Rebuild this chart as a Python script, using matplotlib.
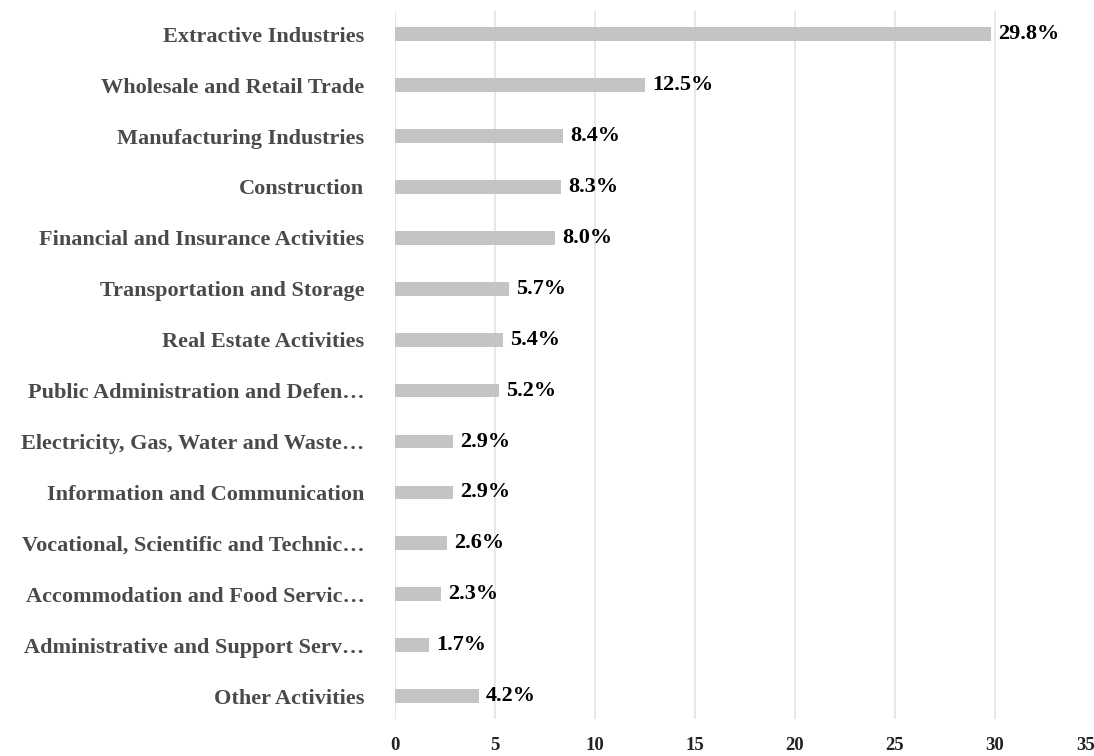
import matplotlib
matplotlib.use("Agg")
import matplotlib.pyplot as plt

# sector shares (%), top to bottom as shown
sectors = [
    "Extractive Industries",
    "Wholesale and Retail Trade",
    "Manufacturing Industries",
    "Construction",
    "Financial and Insurance Activities",
    "Transportation and Storage",
    "Real Estate Activities",
    "Public Administration and Defen\u2026",
    "Electricity, Gas, Water and Waste\u2026",
    "Information and Communication",
    "Vocational, Scientific and Technic\u2026",
    "Accommodation and Food Servic\u2026",
    "Administrative and Support Serv\u2026",
    "Other Activities",
]
shares = [29.8, 12.5, 8.4, 8.3, 8.0, 5.7, 5.4, 5.2, 2.9, 2.9, 2.6, 2.3, 1.7, 4.2]
x_ticks = [0, 5, 10, 15, 20, 25, 30, 35]

plt.rcParams["font.family"] = ["Liberation Serif", "DejaVu Serif"]

fig = plt.figure(figsize=(10.94, 7.56), dpi=100)
ax = fig.add_axes([0.361, 0.049, 0.640, 0.936])

pos = list(range(len(sectors)))
ax.barh(pos, shares, height=0.27, color="#c4c4c4", zorder=3)

for p, v in zip(pos, shares):
    ax.text(v + 0.35, p, f"{v:.1f}%", va="center", ha="left",
            fontsize=16, fontweight="bold", color="black")

ax.set_xlim(0, 35)
ax.set_ylim(len(sectors) - 0.55, -0.45)
ax.set_yticks(pos)
ax.set_yticklabels(sectors, fontsize=16, fontweight="bold", color="#4a4a4a")
ax.set_xticks(x_ticks)
ax.set_xticklabels([str(t) for t in x_ticks], fontsize=13.5,
                   fontweight="bold", color="#222222")
ax.get_xticklabels()[-1].set_horizontalalignment("right")
ax.tick_params(axis="y", length=0, pad=22)
ax.tick_params(axis="x", length=0, pad=13)

ax.grid(axis="x", color="#e3e3e3", linewidth=1.2, zorder=0)
for s in ["top", "right", "bottom", "left"]:
    ax.spines[s].set_visible(False)

fig.savefig("out.png", dpi=100)
